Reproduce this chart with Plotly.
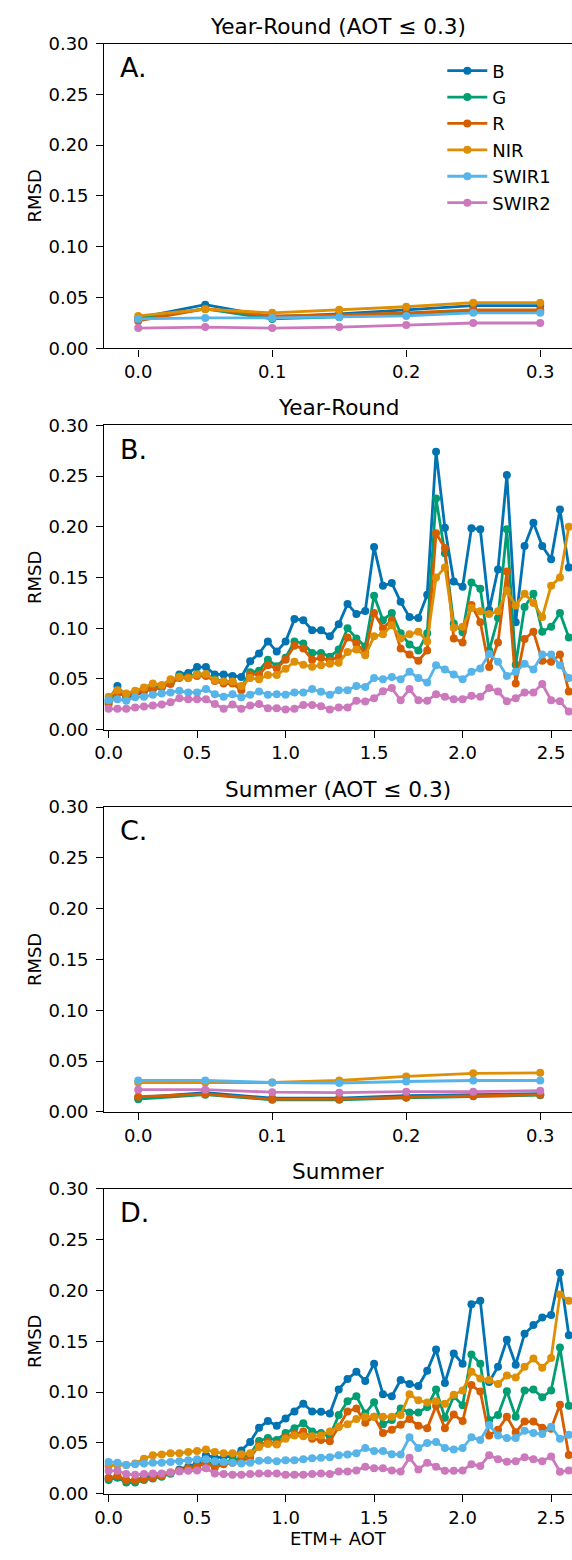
import plotly.graph_objects as go

# ---------------- data ----------------
bands = ["B", "G", "R", "NIR", "SWIR1", "SWIR2"]
colors = {"B": "#0173B2", "G": "#029E73", "R": "#D55E00",
          "NIR": "#DE8F05", "SWIR1": "#56B4E9", "SWIR2": "#CC78BC"}

aot_low = [0.0, 0.05, 0.1, 0.15, 0.2, 0.25, 0.3]
aot_all = [0.0, 0.05, 0.1, 0.15, 0.2, 0.25, 0.3, 0.35, 0.4, 0.45,
           0.5, 0.55, 0.6, 0.65, 0.7, 0.75, 0.8, 0.85, 0.9, 0.95,
           1.0, 1.05, 1.1, 1.15, 1.2, 1.25, 1.3, 1.35, 1.4, 1.45,
           1.5, 1.55, 1.6, 1.65, 1.7, 1.75, 1.8, 1.85, 1.9, 1.95,
           2.0, 2.05, 2.1, 2.15, 2.2, 2.25, 2.3, 2.35, 2.4, 2.45,
           2.5, 2.55, 2.6]

# Panel A: Year-Round (AOT <= 0.3)
yr_low_B = [0.030, 0.043, 0.031, 0.034, 0.038, 0.042, 0.042]
yr_low_G = [0.029, 0.039, 0.029, 0.031, 0.034, 0.037, 0.036]
yr_low_R = [0.027, 0.039, 0.032, 0.033, 0.035, 0.038, 0.038]
yr_low_NIR = [0.032, 0.0385, 0.035, 0.038, 0.041, 0.045, 0.045]
yr_low_SWIR1 = [0.029, 0.030, 0.030, 0.031, 0.032, 0.035, 0.035]
yr_low_SWIR2 = [0.020, 0.021, 0.020, 0.021, 0.023, 0.025, 0.025]

# Panel B: Year-Round
yr_B = [0.029, 0.043, 0.032, 0.0335, 0.038, 0.040, 0.0416, 0.046, 0.0545, 0.056,
        0.0617, 0.0617, 0.0545, 0.0545, 0.053, 0.052, 0.0675, 0.075, 0.087, 0.077,
        0.087, 0.109, 0.108, 0.098, 0.098, 0.092, 0.104, 0.124, 0.114, 0.117,
        0.180, 0.142, 0.1445, 0.126, 0.111, 0.110, 0.133, 0.274, 0.199, 0.146,
        0.141, 0.1985, 0.1975, 0.118, 0.158, 0.251, 0.106, 0.181, 0.204, 0.181,
        0.168, 0.217, 0.160]
yr_G = [0.027, 0.0377, 0.0345, 0.0367, 0.0397, 0.041, 0.043, 0.046, 0.053, 0.052,
        0.055, 0.0545, 0.0497, 0.0474, 0.0474, 0.042, 0.0567, 0.058, 0.069, 0.0626,
        0.071, 0.087, 0.085, 0.0756, 0.0756, 0.072, 0.079, 0.100, 0.090, 0.082,
        0.132, 0.108, 0.115, 0.095, 0.084, 0.078, 0.095, 0.228, 0.174, 0.1046,
        0.096, 0.145, 0.139, 0.078, 0.110, 0.1975, 0.064, 0.121, 0.134, 0.0966,
        0.1015, 0.115, 0.091]
yr_R = [0.025, 0.0358, 0.0335, 0.0358, 0.039, 0.040, 0.042, 0.045, 0.051, 0.051,
        0.053, 0.053, 0.048, 0.0455, 0.0455, 0.039, 0.0545, 0.0545, 0.0636, 0.0604,
        0.069, 0.0827, 0.080, 0.069, 0.0707, 0.068, 0.072, 0.091, 0.085, 0.0756,
        0.115, 0.100, 0.108, 0.080, 0.074, 0.068, 0.078, 0.1937, 0.179, 0.090,
        0.086, 0.123, 0.106, 0.0617, 0.086, 0.156, 0.0455, 0.0895, 0.0966, 0.068,
        0.067, 0.074, 0.0377]
yr_NIR = [0.0325, 0.039, 0.0358, 0.0383, 0.0416, 0.0455, 0.044, 0.0497, 0.052, 0.051,
          0.0545, 0.055, 0.0487, 0.0474, 0.0474, 0.043, 0.051, 0.0497, 0.054, 0.054,
          0.060, 0.067, 0.064, 0.062, 0.0636, 0.065, 0.066, 0.0766, 0.079, 0.0733,
          0.092, 0.094, 0.103, 0.090, 0.094, 0.0966, 0.087, 0.150, 0.160, 0.1005,
          0.1015, 0.120, 0.1167, 0.114, 0.1167, 0.137, 0.1225, 0.134, 0.125, 0.111,
          0.142, 0.150, 0.200]
yr_SWIR1 = [0.029, 0.030, 0.0286, 0.032, 0.0325, 0.0345, 0.0358, 0.0367, 0.0383, 0.0367,
            0.0367, 0.040, 0.035, 0.0325, 0.035, 0.032, 0.0345, 0.0377, 0.0345, 0.035,
            0.0345, 0.0367, 0.0367, 0.040, 0.0374, 0.0345, 0.039, 0.039, 0.043, 0.042,
            0.051, 0.0497, 0.052, 0.0497, 0.057, 0.051, 0.0465, 0.0636, 0.0594, 0.0545,
            0.0497, 0.057, 0.0604, 0.0746, 0.067, 0.053, 0.057, 0.065, 0.0594, 0.074,
            0.074, 0.0636, 0.051]
yr_SWIR2 = [0.0206, 0.0206, 0.0206, 0.022, 0.0228, 0.0238, 0.0248, 0.027, 0.031, 0.030,
            0.030, 0.030, 0.0254, 0.0206, 0.0248, 0.0206, 0.0238, 0.0254, 0.0212, 0.0212,
            0.020, 0.0206, 0.0244, 0.0244, 0.023, 0.020, 0.022, 0.022, 0.0286, 0.0277,
            0.031, 0.038, 0.041, 0.029, 0.040, 0.029, 0.0286, 0.035, 0.0325, 0.030,
            0.030, 0.0335, 0.0325, 0.041, 0.0377, 0.028, 0.031, 0.0367, 0.0367, 0.045,
            0.029, 0.028, 0.018]

# Panel C: Summer (AOT <= 0.3)
su_low_B = [0.014, 0.019, 0.0136, 0.0136, 0.016, 0.017, 0.018]
su_low_G = [0.0126, 0.017, 0.012, 0.012, 0.014, 0.0155, 0.0165]
su_low_R = [0.015, 0.0175, 0.0126, 0.0126, 0.0146, 0.016, 0.017]
su_low_NIR = [0.029, 0.029, 0.029, 0.031, 0.035, 0.038, 0.0385]
su_low_SWIR1 = [0.031, 0.031, 0.029, 0.0285, 0.030, 0.031, 0.031]
su_low_SWIR2 = [0.022, 0.022, 0.0195, 0.019, 0.020, 0.020, 0.021]

# Panel D: Summer
su_B = [0.0155, 0.016, 0.013, 0.0135, 0.016, 0.0177, 0.0177, 0.020, 0.024, 0.0265,
        0.0297, 0.038, 0.0355, 0.036, 0.037, 0.0426, 0.051, 0.065, 0.0716, 0.067,
        0.074, 0.081, 0.0887, 0.081, 0.0806, 0.079, 0.1026, 0.113, 0.120, 0.111,
        0.128, 0.098, 0.096, 0.112, 0.108, 0.106, 0.121, 0.142, 0.109, 0.138,
        0.128, 0.1865, 0.190, 0.110, 0.125, 0.1516, 0.127, 0.1575, 0.166, 0.1735,
        0.176, 0.2174, 0.156]
su_G = [0.0135, 0.016, 0.011, 0.011, 0.0135, 0.015, 0.0168, 0.020, 0.0226, 0.025,
        0.0274, 0.032, 0.029, 0.0306, 0.033, 0.035, 0.039, 0.052, 0.0548, 0.053,
        0.0597, 0.0645, 0.0694, 0.0613, 0.0597, 0.0565, 0.0774, 0.091, 0.096, 0.079,
        0.090, 0.0684, 0.0726, 0.084, 0.080, 0.080, 0.0855, 0.1026, 0.0748, 0.096,
        0.087, 0.137, 0.128, 0.0726, 0.0774, 0.101, 0.0758, 0.1016, 0.1026, 0.095,
        0.1016, 0.1439, 0.0865]
su_R = [0.0155, 0.0177, 0.013, 0.013, 0.0145, 0.016, 0.0177, 0.021, 0.023, 0.025,
        0.0265, 0.0306, 0.0258, 0.029, 0.0306, 0.032, 0.0355, 0.0475, 0.051, 0.049,
        0.0555, 0.0587, 0.0613, 0.0542, 0.053, 0.0516, 0.066, 0.081, 0.084, 0.070,
        0.0758, 0.0597, 0.063, 0.068, 0.0735, 0.067, 0.0645, 0.0865, 0.0645, 0.078,
        0.0716, 0.107, 0.1006, 0.0574, 0.063, 0.0758, 0.0606, 0.071, 0.071, 0.065,
        0.064, 0.0877, 0.0381]
su_NIR = [0.0274, 0.0284, 0.0284, 0.0297, 0.0345, 0.038, 0.0387, 0.040, 0.040, 0.041,
          0.042, 0.0435, 0.041, 0.040, 0.040, 0.039, 0.040, 0.046, 0.049, 0.0484,
          0.0542, 0.0574, 0.0565, 0.0565, 0.0574, 0.0613, 0.066, 0.0684, 0.0735, 0.0758,
          0.0758, 0.0758, 0.0758, 0.0774, 0.098, 0.092, 0.0897, 0.091, 0.0887, 0.0974,
          0.1016, 0.120, 0.1135, 0.112, 0.108, 0.1165, 0.1145, 0.125, 0.133, 0.124,
          0.1335, 0.196, 0.190]
su_SWIR1 = [0.0313, 0.0306, 0.0284, 0.029, 0.0297, 0.0306, 0.0306, 0.0313, 0.032, 0.033,
            0.034, 0.034, 0.032, 0.0313, 0.0306, 0.0297, 0.0306, 0.0325, 0.033, 0.032,
            0.033, 0.033, 0.034, 0.035, 0.0355, 0.036, 0.038, 0.0387, 0.040, 0.045,
            0.042, 0.042, 0.039, 0.0387, 0.0555, 0.045, 0.050, 0.051, 0.045, 0.0435,
            0.045, 0.0555, 0.053, 0.0677, 0.0574, 0.0548, 0.0548, 0.062, 0.0597, 0.0587,
            0.066, 0.0542, 0.058]
su_SWIR2 = [0.0226, 0.0226, 0.0194, 0.0187, 0.0194, 0.020, 0.020, 0.021, 0.022, 0.0226,
            0.023, 0.025, 0.020, 0.0194, 0.0187, 0.0187, 0.0194, 0.020, 0.020, 0.020,
            0.0187, 0.0187, 0.0187, 0.0194, 0.020, 0.0194, 0.022, 0.022, 0.023, 0.0265,
            0.025, 0.025, 0.023, 0.022, 0.0355, 0.024, 0.0306, 0.0265, 0.0226, 0.0226,
            0.023, 0.029, 0.0274, 0.038, 0.034, 0.0316, 0.032, 0.036, 0.034, 0.032,
            0.0368, 0.0216, 0.023]

panel_titles = ["Year-Round (AOT \u2264 0.3)", "Year-Round",
                "Summer (AOT \u2264 0.3)", "Summer"]
panel_letters = ["A.", "B.", "C.", "D."]
y_ticks = [0.0, 0.05, 0.10, 0.15, 0.20, 0.25, 0.30]
x_ticks_low = [0.0, 0.1, 0.2, 0.3]
x_ticks_all = [0.0, 0.5, 1.0, 1.5, 2.0, 2.5]

panels = [
    (aot_low, {"B": yr_low_B, "G": yr_low_G, "R": yr_low_R, "NIR": yr_low_NIR,
               "SWIR1": yr_low_SWIR1, "SWIR2": yr_low_SWIR2}, x_ticks_low, [-0.0253, 0.3237]),
    (aot_all, {"B": yr_B, "G": yr_G, "R": yr_R, "NIR": yr_NIR,
               "SWIR1": yr_SWIR1, "SWIR2": yr_SWIR2}, x_ticks_all, [-0.024, 2.618]),
    (aot_low, {"B": su_low_B, "G": su_low_G, "R": su_low_R, "NIR": su_low_NIR,
               "SWIR1": su_low_SWIR1, "SWIR2": su_low_SWIR2}, x_ticks_low, [-0.0253, 0.3237]),
    (aot_all, {"B": su_B, "G": su_G, "R": su_R, "NIR": su_NIR,
               "SWIR1": su_SWIR1, "SWIR2": su_SWIR2}, x_ticks_all, [-0.024, 2.618]),
]

# ---------------- layout constants (pixels) ----------------
W, H = 572, 1560
LEFT = 96
ROWS = [(33, 342), (420, 728.5), (807, 1116), (1194, 1503)]
FONT = "DejaVu Sans"
TICK_SIZE = 18

def py(p):
    return 1 - p / H

def px(p):
    return p / W

fig = go.Figure()
layout = dict(
    width=W, height=H,
    margin=dict(l=0, r=0, t=0, b=0),
    paper_bgcolor="white", plot_bgcolor="white",
    font=dict(family=FONT, size=TICK_SIZE, color="black"),
    showlegend=True,
    legend=dict(x=px(440), y=py(42), xanchor="left", yanchor="top",
                font=dict(family=FONT, size=18, color="black"),
                bgcolor="rgba(0,0,0,0)", borderwidth=0,
                tracegroupgap=0, itemwidth=40),
)
annotations = []

for k, (xv, data, xt, xr) in enumerate(panels):
    sfx = "" if k == 0 else str(k + 1)
    top, bot = ROWS[k]
    for b in bands:
        fig.add_trace(go.Scatter(
            x=xv, y=data[b], mode="lines+markers", name=b,
            line=dict(color=colors[b], width=2.8),
            marker=dict(color=colors[b], size=8),
            showlegend=(k == 0), legendgroup=b,
            xaxis="x" + sfx, yaxis="y" + sfx,
        ))
    layout["xaxis" + sfx] = dict(
        domain=[px(LEFT), 1], range=xr, anchor="y" + sfx,
        tickvals=xt, tickformat=".1f",
        showline=True, linecolor="black", linewidth=1.3, mirror=True,
        ticks="outside", ticklen=7, tickwidth=1.3, tickcolor="black",
        showgrid=False, zeroline=False,
        tickfont=dict(family=FONT, size=TICK_SIZE, color="black"),
    )
    layout["yaxis" + sfx] = dict(
        domain=[py(bot), py(top)], range=[0, 0.30], anchor="x" + sfx,
        tickvals=y_ticks, tickformat=".2f",
        showline=True, linecolor="black", linewidth=1.3, mirror=False,
        ticks="outside", ticklen=7, tickwidth=1.3, tickcolor="black",
        showgrid=False, zeroline=False, ticklabelstandoff=4,
        tickfont=dict(family=FONT, size=TICK_SIZE, color="black"),
    )
    # panel title
    annotations.append(dict(
        text=panel_titles[k], x=px((LEFT + W) / 2), y=py(top - 3),
        xref="paper", yref="paper", xanchor="center", yanchor="bottom",
        showarrow=False, font=dict(family=FONT, size=21.6, color="black")))
    # panel letter
    annotations.append(dict(
        text=panel_letters[k], x=px(110), y=py(top + 24),
        xref="paper", yref="paper", xanchor="left", yanchor="middle",
        showarrow=False, font=dict(family=FONT, size=27, color="black")))
    # y label
    annotations.append(dict(
        text="RMSD", x=px(25), y=py((top + bot) / 2), textangle=-90,
        xref="paper", yref="paper", xanchor="center", yanchor="middle",
        showarrow=False, font=dict(family=FONT, size=18, color="black")))

annotations.append(dict(
    text="ETM+ AOT", x=px((LEFT + W) / 2), y=py(1548),
    xref="paper", yref="paper", xanchor="center", yanchor="middle",
    showarrow=False, font=dict(family=FONT, size=18, color="black")))

layout["annotations"] = annotations
fig.update_layout(**layout)
fig.write_html("out.html")
